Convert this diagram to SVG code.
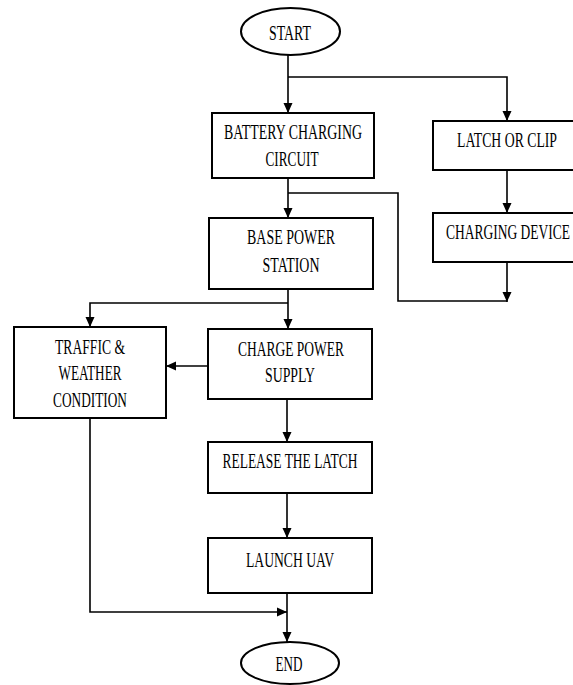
<svg xmlns="http://www.w3.org/2000/svg" width="573" height="685" viewBox="0 0 573 685">
<style>
.box{fill:#fff;stroke:#000;stroke-width:2}
.t{font-family:"Liberation Serif","Times New Roman",serif;font-size:21px;fill:#000;text-anchor:middle}
.c{fill:none;stroke:#000;stroke-width:1.6}
.a{marker-end:url(#arr)}
</style>
<defs>
<marker id="arr" markerUnits="userSpaceOnUse" markerWidth="10" markerHeight="12" viewBox="0 0 10 12" refX="10" refY="6" orient="auto">
<path d="M0,1.5 L10,6 L0,10.5 Z" fill="#000"/>
</marker>
</defs>
<rect width="573" height="685" fill="#fff"/>
<g id="connectors">
<path class="c a" d="M288,55 V113"/>
<path class="c a" d="M288,77 H507 V121"/>
<path class="c a" d="M288,178 V218"/>
<path class="c" d="M288,193 H398 V301 H507"/>
<path class="c a" d="M507,170 V213"/>
<path class="c a" d="M507,262 V302"/>
<path class="c a" d="M288,289 V329"/>
<path class="c a" d="M288,303 H90 V327"/>
<path class="c a" d="M208,366 H166"/>
<path class="c a" d="M287,399 V442"/>
<path class="c a" d="M287,493 V538"/>
<path class="c a" d="M287,593 V642"/>
<path class="c a" d="M90,418 V612 H287"/>
</g>
<g id="start">
<ellipse class="box" cx="290.5" cy="31.5" rx="49.5" ry="23.5"/>
<text class="t" x="290" y="40" textLength="42" lengthAdjust="spacingAndGlyphs">START</text>
</g>
<g id="battery">
<rect class="box" x="212" y="113" width="162" height="65"/>
<text class="t" x="293" y="139" textLength="138" lengthAdjust="spacingAndGlyphs">BATTERY CHARGING</text>
<text class="t" x="292" y="166" textLength="53" lengthAdjust="spacingAndGlyphs">CIRCUIT</text>
</g>
<g id="latch">
<rect class="box" x="433" y="121" width="141" height="49"/>
<text class="t" transform="translate(507,147) scale(0.645,1)" x="0" y="0" textLength="155" lengthAdjust="spacingAndGlyphs">LATCH OR CLIP</text>
</g>
<g id="charging-device">
<rect class="box" x="433" y="213" width="141" height="49"/>
<text class="t" transform="translate(508,239) scale(0.642,1)" x="0" y="0" textLength="193" lengthAdjust="spacingAndGlyphs">CHARGING DEVICE</text>
</g>
<g id="base">
<rect class="box" x="209" y="218" width="164" height="71"/>
<text class="t" x="291" y="244" textLength="88" lengthAdjust="spacingAndGlyphs">BASE POWER</text>
<text class="t" x="291" y="272" textLength="57" lengthAdjust="spacingAndGlyphs">STATION</text>
</g>
<g id="traffic">
<rect class="box" x="14" y="327" width="152" height="91"/>
<text class="t" x="90" y="354" textLength="70" lengthAdjust="spacingAndGlyphs">TRAFFIC &amp;</text>
<text class="t" x="90" y="380" textLength="63" lengthAdjust="spacingAndGlyphs">WEATHER</text>
<text class="t" x="90" y="407" textLength="74" lengthAdjust="spacingAndGlyphs">CONDITION</text>
</g>
<g id="charge-power">
<rect class="box" x="208" y="329" width="164" height="70"/>
<text class="t" x="291" y="356" textLength="106" lengthAdjust="spacingAndGlyphs">CHARGE POWER</text>
<text class="t" x="290" y="382" textLength="50" lengthAdjust="spacingAndGlyphs">SUPPLY</text>
</g>
<g id="release">
<rect class="box" x="208" y="442" width="164" height="51"/>
<text class="t" x="290" y="468" textLength="135" lengthAdjust="spacingAndGlyphs">RELEASE THE LATCH</text>
</g>
<g id="launch">
<rect class="box" x="208" y="538" width="164" height="55"/>
<text class="t" x="290" y="567" textLength="88" lengthAdjust="spacingAndGlyphs">LAUNCH UAV</text>
</g>
<g id="end">
<ellipse class="box" cx="290" cy="663" rx="49" ry="21"/>
<text class="t" x="289" y="671" textLength="27" lengthAdjust="spacingAndGlyphs">END</text>
</g>
</svg>
